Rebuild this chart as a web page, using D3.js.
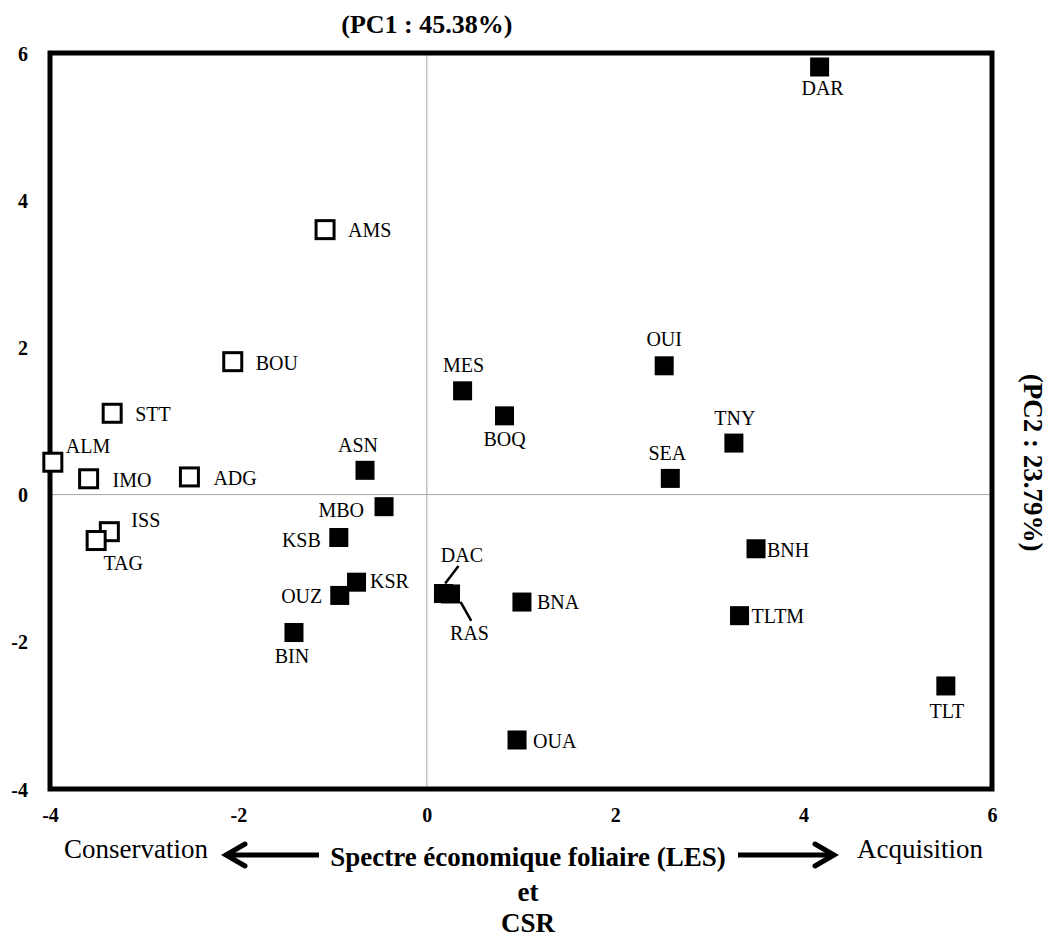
<!DOCTYPE html>
<html>
<head>
<meta charset="utf-8">
<script src="https://cdn.jsdelivr.net/npm/d3@7/dist/d3.min.js"></script>
<style>
  html, body { margin: 0; padding: 0; background: #fff; }
  svg { display: block; font-family: "Liberation Serif", "Times New Roman", serif; }
</style>
</head>
<body>
<svg id="chart" width="1055" height="940"></svg>
<script>
// Populations: PCA scores on the first two axes
const sites = ["AMS","BOU","STT","ALM","IMO","ADG","ISS","TAG",
               "DAR","OUI","MES","BOQ","TNY","SEA","ASN","MBO","KSB","KSR",
               "OUZ","DAC","RAS","BNA","BIN","BNH","TLTM","TLT","OUA"];
const pc1 = [-1.08,-2.06,-3.34,-3.97,-3.59,-2.52,-3.37,-3.51,
             4.17,2.52,0.38,0.825,3.26,2.585,-0.656,-0.454,-0.934,-0.746,
             -0.924,0.177,0.252,1.01,-1.41,3.495,3.32,5.51,0.958];
const pc2 = [3.60,1.806,1.105,0.44,0.215,0.24,-0.504,-0.624,
             5.81,1.75,1.41,1.07,0.70,0.22,0.33,-0.164,-0.583,-1.19,
             -1.37,-1.344,-1.35,-1.46,-1.874,-0.736,-1.645,-2.60,-3.334];
// group: "open" = conservative strategy, "filled" = acquisitive
const group = ["open","open","open","open","open","open","open","open",
               "filled","filled","filled","filled","filled","filled","filled","filled","filled","filled",
               "filled","filled","filled","filled","filled","filled","filled","filled","filled"];

const xTicks = [-4,-2,0,2,4,6];
const yTicks = [-4,-2,0,2,4,6];

const titleTop = "(PC1 : 45.38%)";
const titleRight = "(PC2 : 23.79%)";
const xTitleLines = ["Spectre économique foliaire (LES)", "et", "CSR"];
const leftPole = "Conservation";
const rightPole = "Acquisition";

// label placement around each square: [dx, dy, anchor]
const labelPos = {
  AMS:[23,7.5,"start"], BOU:[23,8,"start"], STT:[23,8,"start"], ALM:[13,-9.5,"start"],
  IMO:[24,8,"start"], ADG:[24,8,"start"], ISS:[22,-5,"start"], TAG:[27,29.5,"middle"],
  DAR:[3,28.5,"middle"], OUI:[0,-20,"middle"], MES:[1,-18.5,"middle"], BOQ:[0,30.5,"middle"],
  TNY:[1,-18,"middle"], SEA:[-3,-18,"middle"], ASN:[-7,-18,"middle"], MBO:[-20,10,"end"],
  KSB:[-18,9.5,"end"], KSR:[13.5,6,"start"], OUZ:[-17.5,7.5,"end"], DAC:[18.5,-32,"middle"],
  RAS:[19,46,"middle"], BNA:[15,7,"start"], BIN:[-2,30,"middle"], BNH:[11,8,"start"],
  TLTM:[12,7.5,"start"], TLT:[1,32,"middle"], OUA:[16,8,"start"]
};
// leader lines for the two overlapping squares
const leaders = { DAC:[1.7,-10,15,-27.5], RAS:[10,8,20.7,27] };

const svg = d3.select("#chart");
const x0 = 50, x1 = 992, y0 = 53, y1 = 789;

const x = d3.scaleLinear().domain([-4, 6]).range([x0, x1]);
const y = d3.scaleLinear().domain([-4, 6]).range([y1, y0]);

// zero reference lines
svg.append("line").attr("x1", x(0)).attr("x2", x(0)).attr("y1", y0).attr("y2", y1)
  .attr("stroke", "#a6a6a6").attr("stroke-width", 1);
svg.append("line").attr("x1", x0).attr("x2", x1).attr("y1", y(0)).attr("y2", y(0))
  .attr("stroke", "#a6a6a6").attr("stroke-width", 1);

// axes (tick labels only), plain hyphen for negatives
const fmt = d => String(d);
const xAxis = svg.append("g").attr("transform", `translate(0,${y1 + 16})`)
  .call(d3.axisBottom(x).tickValues(xTicks).tickSize(0).tickFormat(fmt));
const yAxis = svg.append("g").attr("transform", `translate(${x0 - 22},0)`)
  .call(d3.axisLeft(y).tickValues(yTicks).tickSize(0).tickFormat(fmt));
[xAxis, yAxis].forEach(a => {
  a.attr("font-family", null).attr("font-size", null);
  a.select(".domain").remove();
  a.selectAll("text").style("font-family", "'Liberation Serif', serif").style("font-weight", "bold")
    .style("font-size", "20px").attr("fill", "#000");
});
yAxis.selectAll("text").attr("x", 0).attr("dy", "0.35em");
xAxis.selectAll("text").attr("dy", "0.71em");

// plot frame
svg.append("rect").attr("x", x0).attr("y", y0).attr("width", x1 - x0).attr("height", y1 - y0)
  .attr("fill", "none").attr("stroke", "#000").attr("stroke-width", 5);

// data rows
const rows = sites.map((s, i) => ({ name: s, x: pc1[i], y: pc2[i], g: group[i] }));

// leader lines
svg.append("g").selectAll("line").data(rows.filter(d => leaders[d.name])).join("line")
  .attr("x1", d => x(d.x) + leaders[d.name][0]).attr("y1", d => y(d.y) + leaders[d.name][1])
  .attr("x2", d => x(d.x) + leaders[d.name][2]).attr("y2", d => y(d.y) + leaders[d.name][3])
  .attr("stroke", "#000").attr("stroke-width", 2.5);

// markers
const sq = 19;
svg.append("g").selectAll("rect").data(rows.filter(d => d.g === "filled")).join("rect")
  .attr("x", d => x(d.x) - sq / 2).attr("y", d => y(d.y) - sq / 2)
  .attr("width", sq).attr("height", sq).attr("fill", "#000");
const osq = 18;
svg.append("g").selectAll("rect").data(rows.filter(d => d.g === "open")).join("rect")
  .attr("x", d => x(d.x) - osq / 2).attr("y", d => y(d.y) - osq / 2)
  .attr("width", osq).attr("height", osq).attr("fill", "#fff")
  .attr("stroke", "#000").attr("stroke-width", 3);

// point labels
svg.append("g").selectAll("text").data(rows).join("text")
  .attr("x", d => x(d.x) + labelPos[d.name][0])
  .attr("y", d => y(d.y) + labelPos[d.name][1])
  .attr("text-anchor", d => labelPos[d.name][2])
  .attr("font-size", 20).attr("fill", "#000")
  .text(d => d.name);

// axis titles
svg.append("text").attr("x", x(0)).attr("y", 33).attr("text-anchor", "middle")
  .attr("font-weight", "bold").attr("font-size", 26).text(titleTop);
svg.append("text").attr("transform", `translate(1024,${y(0) - 32}) rotate(90)`)
  .attr("text-anchor", "middle").attr("font-weight", "bold").attr("font-size", 27)
  .text(titleRight);

const xt = svg.append("g").attr("text-anchor", "middle").attr("font-weight", "bold").attr("font-size", 27);
const xtBase = [866, 901, 932];
xt.selectAll("text").data(xTitleLines).join("text")
  .attr("x", 528).attr("y", (d, i) => xtBase[i]).text(d => d);

svg.append("text").attr("x", 64).attr("y", 858).attr("font-size", 27).text(leftPole);
svg.append("text").attr("x", 857).attr("y", 858).attr("font-size", 27).text(rightPole);

// direction arrows
function arrow(xa, xb, yy) {
  const dir = Math.sign(xb - xa);
  svg.append("line").attr("x1", xa).attr("x2", xb - dir * 3).attr("y1", yy).attr("y2", yy)
    .attr("stroke", "#000").attr("stroke-width", 5);
  svg.append("path")
    .attr("d", `M${xb - dir * 19},${yy - 11} L${xb},${yy} L${xb - dir * 19},${yy + 11}`)
    .attr("fill", "none").attr("stroke", "#000").attr("stroke-width", 5)
    .attr("stroke-linejoin", "miter").attr("stroke-linecap", "round");
}
arrow(319, 226, 855);
arrow(738, 834, 855);
</script>
</body>
</html>
